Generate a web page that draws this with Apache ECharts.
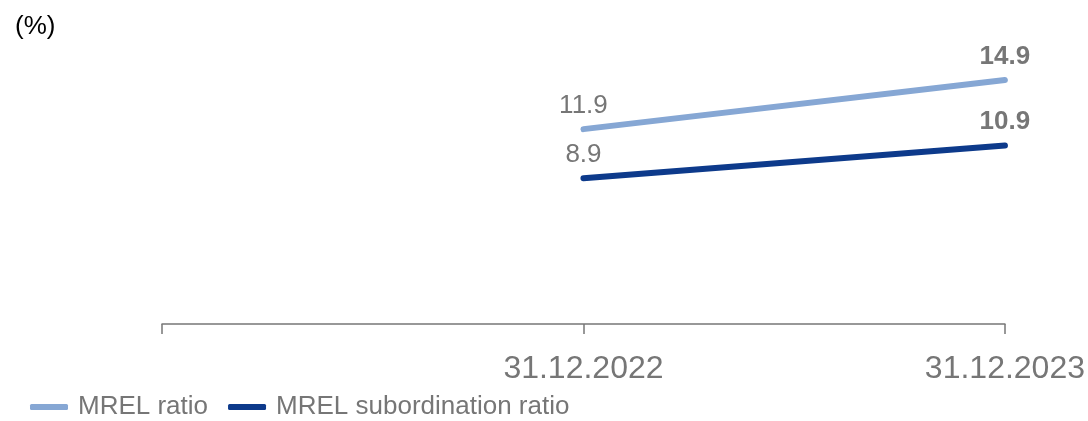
<!DOCTYPE html>
<html>
<head>
<meta charset="utf-8">
<script src="https://cdn.jsdelivr.net/npm/echarts@6/dist/echarts.min.js"></script>
<style>
  html, body { margin: 0; padding: 0; background: #fff; }
  #chart { width: 1088px; height: 421px; }
</style>
</head>
<body>
<div id="chart"></div>
<script>
// first category is an empty slot so the line starts in the middle
var categories = ['', '31.12.2022', '31.12.2023'];
var mrelRatio = [null, 11.9, 14.9];
var mrelSubordination = [null, 8.9, 10.9];

var chart = echarts.init(document.getElementById('chart'));

var labelGrey = '#767676';

function pointLabel(params) {
    return params.dataIndex === 2 ? '{b|' + params.value + '}' : '{n|' + params.value + '}';
}

var labelStyle = {
    show: true,
    position: 'top',
    distance: 10,
    formatter: pointLabel,
    rich: {
        n: { fontSize: 26, color: labelGrey, fontFamily: 'Liberation Sans' },
        b: { fontSize: 26, fontWeight: 'bold', color: labelGrey, fontFamily: 'Liberation Sans' }
    }
};

var option = {
    backgroundColor: '#ffffff',
    animation: false,
    title: {
        text: '(%)',
        left: 10,
        top: 9,
        textStyle: { fontSize: 26, fontWeight: 'normal', color: '#000', fontFamily: 'Liberation Sans' }
    },
    legend: {
        left: 25,
        bottom: -4,
        icon: 'roundRect',
        itemWidth: 38,
        itemHeight: 6,
        itemGap: 20,
        textStyle: { fontSize: 26, color: labelGrey, fontFamily: 'Liberation Sans', padding: [0, 0, 0, 5] },
        data: ['MREL ratio', 'MREL subordination ratio']
    },
    grid: {
        left: 162,
        right: 83,
        top: 62,
        bottom: 97
    },
    xAxis: {
        type: 'category',
        data: categories,
        boundaryGap: false,
        axisLine: { lineStyle: { color: '#777', width: 1.5 } },
        axisTick: { show: true, length: 10, lineStyle: { color: '#777', width: 1.5 } },
        axisLabel: { fontSize: 32, color: labelGrey, margin: 29, fontFamily: 'Liberation Sans', showMaxLabel: true }
    },
    yAxis: {
        type: 'value',
        min: 0,
        max: 16,
        show: false
    },
    series: [
        {
            name: 'MREL ratio',
            type: 'line',
            data: mrelRatio,
            symbol: 'circle',
            symbolSize: 1,
            showSymbol: true,
            color: '#86a7d4',
            lineStyle: { width: 6, cap: 'round' },
            label: labelStyle
        },
        {
            name: 'MREL subordination ratio',
            type: 'line',
            data: mrelSubordination,
            symbol: 'circle',
            symbolSize: 1,
            showSymbol: true,
            color: '#0d3a8b',
            lineStyle: { width: 6, cap: 'round' },
            label: labelStyle
        }
    ]
};

chart.setOption(option);
</script>
</body>
</html>
